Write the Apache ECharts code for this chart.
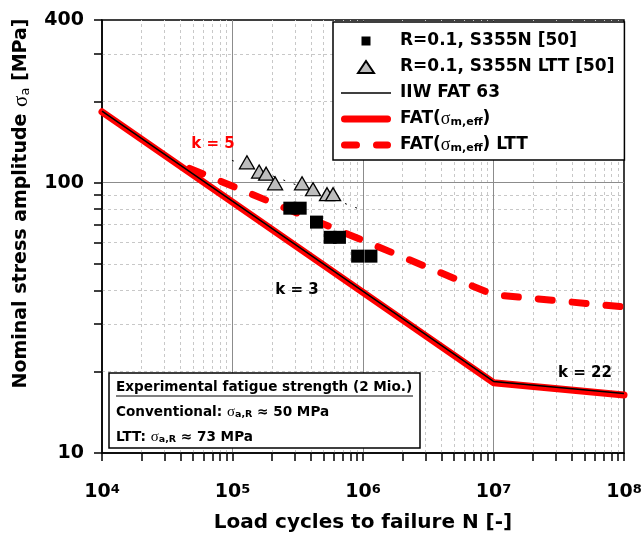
<!DOCTYPE html>
<html>
<head>
<meta charset="utf-8">
<script src="https://cdn.jsdelivr.net/npm/echarts@6/dist/echarts.min.js"></script>
<style>
html,body{margin:0;padding:0;background:#fff;}
#main{width:644px;height:538px;}
</style>
</head>
<body>
<div id="main"></div>
<script>
// measured points, R=0.1 S355N (conventional)
var sqN = [2.75e5, 3.3e5, 4.4e5, 5.6e5, 6.6e5, 9.1e5, 1.15e6];
var sqS = [80.5, 80.5, 71.5, 62.8, 62.8, 53.5, 53.5];
// measured points, R=0.1 S355N LTT
var triN = [1.29e5, 1.6e5, 1.81e5, 2.12e5, 3.41e5, 4.14e5, 5.3e5, 5.9e5];
var triS = [119, 110, 108, 99.5, 99.5, 94.6, 90.7, 90.7];
// dotted trend through LTT points
var trendN = [9.9e4, 1e6];
var trendS = [121, 79];
// design curves
var iiwN = [1e4, 1e7, 1e8];
var iiwS = [184, 18.4, 16.6];
var fatN = [1e4, 1e7, 1e8];
var fatS = [183, 18.2, 16.4];
var lttN = [4.7e4, 1e7, 1e8];
var lttS = [113, 38.5, 34.7];

var xMajor = [1e4, 1e5, 1e6, 1e7, 1e8];
var yMajor = [10, 100, 400];
var xMinor = [];
[1e4, 1e5, 1e6, 1e7].forEach(function (d) {
  for (var m = 2; m <= 9; m++) xMinor.push(m * d);
});
var yMinor = [20, 30, 40, 50, 60, 70, 80, 90, 200, 300];

function pairs(a, b) {
  return a.map(function (v, i) { return [v, b[i]]; });
}

var FONT = 'DejaVu Sans';
var chart = echarts.init(document.getElementById('main'));

var majorGrid = xMajor.slice(1, 4).map(function (v) { return { xAxis: v }; })
  .concat([{ yAxis: 100 }]);
var minorGrid = xMinor.map(function (v) { return { xAxis: v }; })
  .concat(yMinor.map(function (v) { return { yAxis: v }; }));

// legend icons, drawn in a 54x14 box (first two moves pin the box)
var BOX = 'path://M0,0M54,14';
var iconSquare = BOX + 'M20.5,2.5h9v9h-9z';
var iconTri = BOX + 'M17,13L25,1L33,13z';
var iconThin = BOX + 'M0,6.25h50v1.5h-50z';
var iconThick = BOX + 'M3.5,3.5h43a3.5,3.5 0 0 1 0,7h-43a3.5,3.5 0 0 1 0,-7z';
var iconDash = BOX + 'M3.5,3.5h12a3.5,3.5 0 0 1 0,7h-12a3.5,3.5 0 0 1 0,-7z' +
  'M35.5,3.5h11a3.5,3.5 0 0 1 0,7h-11a3.5,3.5 0 0 1 0,-7z';

function legendName(name) {
  return name.replace('σm,eff', '{s|σ}{sub|m,eff}');
}

var boxRich = {
  n: { font: 'bold 13.6px ' + FONT, fill: '#000' },
  s: { font: '15px Liberation Serif', fill: '#000' },
  sub: { font: 'bold 9.5px ' + FONT, fill: '#000', verticalAlign: 'bottom', lineHeight: 10 }
};

var option = {
  animation: false,
  textStyle: { fontFamily: FONT },
  grid: {
    left: 102, right: 20, top: 20, bottom: 85,
    containLabel: false, outerBoundsMode: 'none',
    show: true, borderColor: '#000', borderWidth: 1.5, backgroundColor: 'transparent'
  },
  legend: {
    orient: 'vertical',
    left: 333, top: 22, z: 20,
    backgroundColor: '#fff',
    borderColor: '#000', borderWidth: 1.5,
    padding: [10, 10, 6, 7],
    itemWidth: 54, itemHeight: 14, itemGap: 8,
    data: [
      { name: 'R=0.1, S355N [50]', icon: iconSquare },
      { name: 'R=0.1, S355N LTT [50]', icon: iconTri },
      { name: 'IIW FAT 63', icon: iconThin },
      { name: 'FAT(σm,eff)', icon: iconThick },
      { name: 'FAT(σm,eff) LTT', icon: iconDash }
    ],
    formatter: legendName,
    textStyle: {
      fontFamily: FONT, fontSize: 17, fontWeight: 'bold', color: '#000', lineHeight: 18,
      rich: {
        s: { fontFamily: 'Liberation Serif', fontSize: 18, fontWeight: 'normal', color: '#000' },
        sub: { fontFamily: FONT, fontSize: 11, fontWeight: 'bold', color: '#000', verticalAlign: 'bottom', lineHeight: 11 }
      }
    }
  },
  xAxis: {
    type: 'log', logBase: 10, min: 1e4, max: 1e8,
    name: 'Load cycles to failure N [-]',
    nameLocation: 'middle', nameGap: 60,
    nameTextStyle: { fontFamily: FONT, fontSize: 20, fontWeight: 'bold', color: '#000' },
    axisLine: { onZero: false, lineStyle: { color: '#000', width: 1.5 } },
    axisTick: { show: true, inside: false, customValues: xMajor.concat(xMinor), length: 8, lineStyle: { color: '#000', width: 1.5 } },
    axisLabel: {
      customValues: xMajor, margin: 30, color: '#000',
      formatter: function (v) {
        return '{b|10}{sup|' + Math.round(Math.log10(v)) + '}';
      },
      rich: {
        b: { fontFamily: FONT, fontSize: 19, fontWeight: 'bold', color: '#000' },
        sup: { fontFamily: FONT, fontSize: 13, fontWeight: 'bold', color: '#000', verticalAlign: 'top', lineHeight: 13 }
      }
    },
    splitLine: { show: false }
  },
  yAxis: {
    type: 'log', logBase: 10, min: 10, max: 400,
    name: '{n|Nominal stress amplitude }{s|σ}{sub|a}{n| [MPa]}',
    nameLocation: 'middle', nameGap: 70, nameRotate: 90,
    nameTextStyle: {
      padding: [0, 0, 0, 66],
      rich: {
        n: { fontFamily: FONT, fontSize: 19, fontWeight: 'bold', color: '#000' },
        s: { fontFamily: 'Liberation Serif', fontSize: 21, color: '#000' },
        sub: { fontFamily: FONT, fontSize: 13, color: '#000', verticalAlign: 'bottom', lineHeight: 13 }
      }
    },
    axisLine: { onZero: false, lineStyle: { color: '#000', width: 1.5 } },
    axisTick: { customValues: yMajor.concat(yMinor), length: 8, lineStyle: { color: '#000', width: 1.5 } },
    axisLabel: {
      customValues: yMajor, margin: 18, color: '#000',
      fontFamily: FONT, fontSize: 19, fontWeight: 'bold'
    },
    splitLine: { show: false }
  },
  graphic: [
    { type: 'text', x: 213, y: 144, z: 100,
      style: { text: 'k = 5', fill: '#ff0000', font: 'bold 15px ' + FONT, textAlign: 'center', textVerticalAlign: 'middle' } },
    { type: 'text', x: 297, y: 290, z: 100,
      style: { text: 'k = 3', fill: '#000', font: 'bold 15px ' + FONT, textAlign: 'center', textVerticalAlign: 'middle' } },
    { type: 'text', x: 585, y: 373, z: 100,
      style: { text: 'k = 22', fill: '#000', font: 'bold 15px ' + FONT, textAlign: 'center', textVerticalAlign: 'middle' } },
    { type: 'rect', z: 100,
      shape: { x: 109, y: 373, width: 311, height: 75 },
      style: { fill: '#fff', stroke: '#000', lineWidth: 1.5 } },
    { type: 'text', x: 116, y: 387, z: 101,
      style: { text: 'Experimental fatigue strength (2 Mio.)', fill: '#000', font: 'bold 13.6px ' + FONT, textVerticalAlign: 'middle' } },
    { type: 'line', z: 101,
      shape: { x1: 116, y1: 396, x2: 413, y2: 396 },
      style: { stroke: '#000', lineWidth: 1.2 } },
    { type: 'text', x: 116, y: 412, z: 101,
      style: { text: '{n|Conventional: }{s|σ}{sub|a,R}{n| ≈ 50 MPa}', textVerticalAlign: 'middle', rich: boxRich } },
    { type: 'text', x: 116, y: 437, z: 101,
      style: { text: '{n|LTT: }{s|σ}{sub|a,R}{n| ≈ 73 MPa}', textVerticalAlign: 'middle', rich: boxRich } }
  ],
  series: [
    {
      name: 'minorGrid', type: 'line', data: [], silent: true, z: 0,
      markLine: {
        z: 0, symbol: 'none', silent: true, label: { show: false },
        lineStyle: { color: '#c8c8c8', width: 1, type: [3, 3] },
        data: minorGrid
      }
    },
    {
      name: 'majorGrid', type: 'line', data: [], silent: true, z: 0,
      markLine: {
        z: 0, symbol: 'none', silent: true, label: { show: false },
        lineStyle: { color: '#8c8c8c', width: 1, type: 'solid' },
        data: majorGrid
      }
    },
    {
      name: 'FAT(σm,eff)', type: 'line', data: pairs(fatN, fatS), symbol: 'none', z: 3,
      itemStyle: { color: '#ff0000' },
      lineStyle: { color: '#ff0000', width: 7, cap: 'round', join: 'round' }
    },
    {
      name: 'IIW FAT 63', type: 'line', data: pairs(iiwN, iiwS), symbol: 'none', z: 4,
      itemStyle: { color: '#000' },
      lineStyle: { color: '#000', width: 1.5 }
    },
    {
      name: 'FAT(σm,eff) LTT', type: 'line', data: pairs(lttN, lttS), symbol: 'none', z: 3,
      itemStyle: { color: '#ff0000' },
      lineStyle: { color: '#ff0000', width: 7, type: [14, 20], cap: 'round' }
    },
    {
      name: 'trend', type: 'line', data: pairs(trendN, trendS), symbol: 'none', z: 4,
      lineStyle: { color: '#000', width: 1, type: [2, 9] }
    },
    {
      name: 'R=0.1, S355N [50]', type: 'scatter', data: pairs(sqN, sqS), z: 5,
      symbol: 'rect', symbolSize: 13,
      itemStyle: { color: '#000', opacity: 1 }
    },
    {
      name: 'R=0.1, S355N LTT [50]', type: 'scatter', data: pairs(triN, triS), z: 6,
      symbol: 'triangle', symbolSize: [15, 13],
      itemStyle: { color: '#bdbdbd', borderColor: '#000', borderWidth: 1.3, opacity: 1 }
    }
  ]
};

chart.setOption(option);
</script>
</body>
</html>
